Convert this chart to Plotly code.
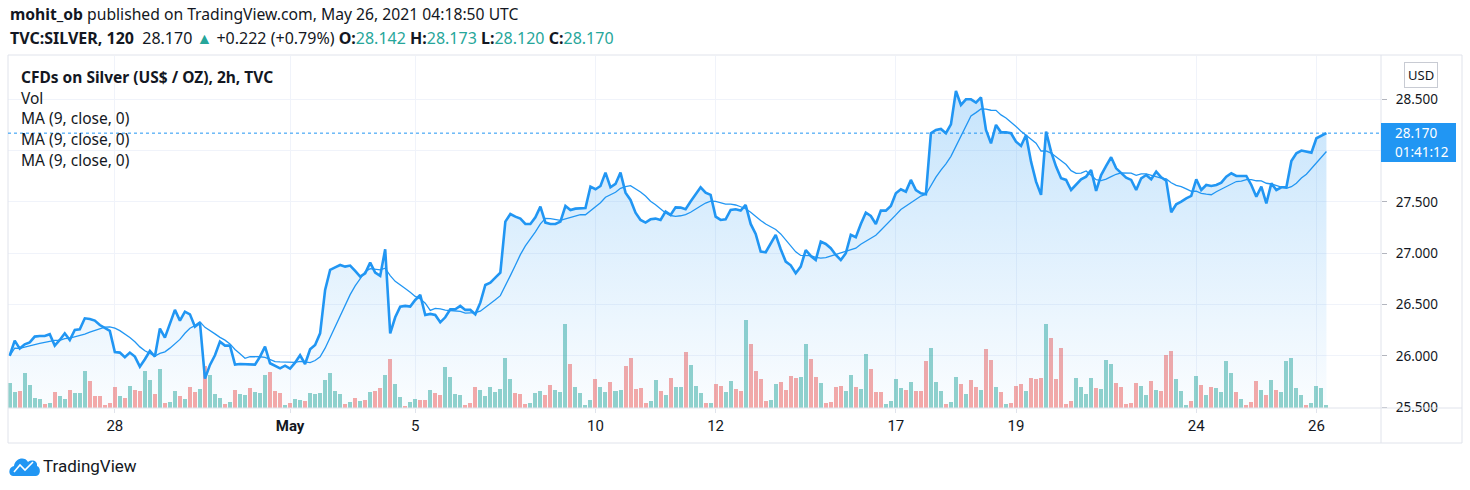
import pandas as pd
import plotly.graph_objects as go

# ---- data (TVC:SILVER, 2h bars) ----
sessions = ["04-26", "04-27", "04-28", "04-29", "04-30", "05-02", "05-03", "05-04", "05-05",
            "05-06", "05-07", "05-10", "05-11", "05-12", "05-13", "05-14", "05-17", "05-18",
            "05-19", "05-20", "05-21", "05-24", "05-25", "05-26"]
bars_in_session = [9, 12, 12, 12, 11, 1, 12, 12, 12, 12, 12, 12, 12, 12, 12, 12, 12, 12,
                   12, 12, 12, 12, 12, 3]

close = [
    26.000, 26.148, 26.070, 26.112, 26.131, 26.187, 26.193, 26.193, 26.210, 26.099,
    26.154, 26.219, 26.154, 26.252, 26.258, 26.365, 26.359, 26.343, 26.300, 26.268,
    26.242, 26.037, 26.031, 25.985, 26.031, 25.992, 25.894, 25.966, 26.047, 25.992,
    26.265, 26.177, 26.307, 26.447, 26.343, 26.430, 26.404, 26.284, 26.323, 25.777,
    25.911, 26.005, 26.138, 26.099, 26.099, 25.914, 25.920, 25.920, 25.917, 25.914,
    25.992, 26.089, 25.927, 25.901, 25.878, 25.904, 25.875, 25.933, 26.005, 25.920,
    26.063, 26.105, 26.219, 26.642, 26.837, 26.862, 26.885, 26.869, 26.879, 26.827,
    26.772, 26.804, 26.908, 26.810, 26.778, 27.038, 26.219, 26.375, 26.479, 26.486,
    26.479, 26.544, 26.593, 26.398, 26.408, 26.398, 26.326, 26.375, 26.453, 26.453,
    26.486, 26.447, 26.447, 26.404, 26.518, 26.690, 26.713, 26.762, 26.810, 27.308,
    27.382, 27.356, 27.337, 27.285, 27.285, 27.350, 27.454, 27.298, 27.285, 27.285,
    27.308, 27.460, 27.421, 27.434, 27.441, 27.441, 27.649, 27.623, 27.655, 27.785,
    27.642, 27.675, 27.785, 27.590, 27.519, 27.395, 27.324, 27.298, 27.330, 27.337,
    27.324, 27.405, 27.373, 27.447, 27.444, 27.428, 27.503, 27.568, 27.642, 27.590,
    27.568, 27.356, 27.324, 27.330, 27.421, 27.428, 27.415, 27.470, 27.285, 27.187,
    27.015, 27.009, 27.090, 27.178, 27.038, 26.918, 26.882, 26.804, 26.869, 27.031,
    26.973, 26.934, 27.113, 27.090, 27.048, 26.983, 26.934, 26.999, 27.178, 27.155,
    27.285, 27.395, 27.363, 27.285, 27.415, 27.415, 27.460, 27.584, 27.623, 27.600,
    27.714, 27.616, 27.584, 27.574, 28.169, 28.201, 28.211, 28.169, 28.256, 28.581,
    28.445, 28.500, 28.500, 28.468, 28.519, 28.201, 28.071, 28.250, 28.178, 28.178,
    28.169, 28.087, 28.045, 28.152, 27.892, 27.697, 27.568, 28.185, 27.990, 27.844,
    27.730, 27.714, 27.616, 27.665, 27.720, 27.746, 27.811, 27.607, 27.762, 27.850,
    27.935, 27.827, 27.779, 27.736, 27.714, 27.616, 27.730, 27.762, 27.720, 27.795,
    27.740, 27.707, 27.399, 27.477, 27.503, 27.535, 27.558, 27.720, 27.616, 27.665,
    27.655, 27.665, 27.688, 27.746, 27.779, 27.753, 27.753, 27.753, 27.665, 27.551,
    27.649, 27.486, 27.681, 27.616, 27.642, 27.642, 27.899, 27.974, 28.000, 27.990,
    27.980, 28.120, 28.143, 28.170,
]

# relative volume per bar
volume = [
    76, 49, 51, 105, 68, 30, 26, 12, 15, 48, 36, 27, 54, 45, 45, 111, 81, 36, 36, 9,
    15, 63, 36, 30, 66, 54, 51, 111, 84, 42, 117, 15, 18, 51, 36, 27, 63, 48, 57, 126,
    99, 42, 30, 12, 18, 54, 42, 40, 60, 48, 45, 99, 108, 51, 45, 9, 15, 27, 24, 21,
    45, 43, 45, 84, 105, 51, 42, 12, 18, 30, 21, 24, 48, 51, 60, 99, 147, 72, 33, 6,
    18, 27, 24, 24, 54, 45, 39, 123, 93, 42, 39, 9, 15, 63, 54, 36, 63, 48, 57, 150,
    87, 45, 42, 12, 15, 45, 51, 39, 69, 54, 48, 252, 132, 63, 45, 9, 24, 87, 63, 48,
    78, 51, 54, 126, 150, 57, 60, 15, 21, 84, 51, 39, 90, 63, 63, 168, 129, 66, 45, 15,
    15, 72, 66, 48, 81, 57, 51, 264, 192, 111, 87, 21, 24, 72, 78, 54, 96, 90, 93, 192,
    147, 93, 75, 15, 18, 63, 66, 51, 99, 63, 57, 162, 117, 48, 48, 12, 21, 87, 60, 54,
    78, 51, 51, 141, 180, 78, 51, 12, 18, 93, 72, 42, 84, 63, 54, 177, 144, 63, 48, 12,
    15, 66, 72, 51, 90, 87, 90, 252, 210, 87, 180, 12, 21, 90, 63, 42, 90, 60, 57, 144,
    132, 75, 63, 12, 15, 75, 66, 39, 81, 54, 51, 159, 171, 87, 51, 9, 21, 96, 69, 39,
    63, 60, 48, 141, 105, 48, 27, 9, 18, 81, 54, 39, 84, 54, 48, 141, 150, 60, 39, 9,
    15, 66, 60, 9,
]

# g = up bar, r = down bar
volume_dir = (
    "ggrggggrgr" "ggrgggrrrr" "rrgrgrrggr" "grggrgrrgr" "gggrg"
    "rggrgggrrr" "grggrggggg" "ggrgrgrgrr" "grggrggrrg" "rrgg"
    "ggrrrggggg" "ggrrrgggrr" "gggrggggrg" "grggrrrrrg" "grgrggrggg"
    "rgrrggrrgr" "rrrggrrrrg" "grrgrrrrgg" "rggrrrgg"
    "ggrgrrrggg" "rggrgrrgrr" "grgrrrgrrr" "grrrrrgggg" "rgggrrrrrg"
    "grgrrrgggr" "grgrggggrg" "rrrgrgrggg" "ggrgggg"
)

tick_sessions = ["04-28", "05-02", "05-05", "05-10", "05-12", "05-17", "05-19", "05-24", "05-26"]
tick_text = ["28", "<b>May</b>", "5", "10", "12", "17", "19", "24", "26"]
price_ticks = [25.5, 26.0, 26.5, 27.0, 27.5, 28.0, 28.5]
price_tick_text = ["25.500", "26.000", "26.500", "27.000", "27.500", "", "28.500"]
last_price = 28.170
countdown = "01:41:12"

BLUE = "#2196F3"
TEAL = "#26a69a"
TXT = "#131722"
GRID = "#f0f3fa"
BORDER = "#e0e3eb"
FONT = "Noto Sans"
NARROW = "Roboto"

df = pd.DataFrame({"close": close, "volume": volume, "dir": list(volume_dir)})
df["bar"] = range(len(df))
df["ma"] = df["close"].rolling(9, min_periods=1).mean()
df["vcolor"] = df["dir"].map({"g": "rgba(38,166,154,0.5)", "r": "rgba(239,83,80,0.5)"})

starts = pd.Series(bars_in_session, index=sessions).cumsum() - pd.Series(bars_in_session, index=sessions)
tickvals = [int(starts[s]) for s in tick_sessions]

# pixel -> paper helpers for the frame decorations
L, R, T, B = 8, 1381, 56, 408
def px(x):
    return (x - L) / (R - L)
def py(y):
    return (B - y) / (B - T)

fig = go.Figure()
fig.add_bar(x=df.bar, y=df.volume, marker_color=df.vcolor, marker_line_width=0,
            width=0.8, yaxis="y", hoverinfo="skip")
fig.add_scatter(x=df.bar, y=df.close, mode="lines", yaxis="y2",
                line=dict(color=BLUE, width=2.6),
                fill="tozeroy",
                fillgradient=dict(type="vertical", start=25.49, stop=28.6,
                                  colorscale=[[0, "rgba(33,150,243,0.02)"],
                                              [1, "rgba(33,150,243,0.26)"]]))
fig.add_scatter(x=df.bar, y=df.ma, mode="lines", yaxis="y2",
                line=dict(color=BLUE, width=1.3))

shapes = [
    # outer frame and separators
    dict(type="rect", xref="paper", yref="paper", x0=px(8), x1=px(1462), y0=py(443), y1=py(55),
         line=dict(color=BORDER, width=1), layer="above"),
    dict(type="line", xref="paper", yref="paper", x0=1, x1=1, y0=py(443), y1=py(55),
         line=dict(color=BORDER, width=1)),
    dict(type="line", xref="paper", yref="paper", x0=px(8), x1=px(1462), y0=0, y1=0,
         line=dict(color=BORDER, width=1)),
    # last price line
    dict(type="line", xref="paper", yref="y2", x0=0, x1=1, y0=last_price, y1=last_price,
         line=dict(color=BLUE, width=1, dash="dot")),
    # last price label box
    dict(type="rect", xref="paper", yref="paper", x0=1, x1=px(1456), y0=py(162), y1=py(123),
         fillcolor=BLUE, line=dict(width=0)),
    # TradingView logo (cloud)
    dict(type="path", xref="paper", yref="paper", fillcolor=BLUE, line=dict(width=0),
         path=(f"M {px(13)},{py(476)} C {px(8)},{py(476)} {px(8)},{py(467)} {px(14)},{py(466)} "
               f"C {px(15)},{py(458)} {px(25)},{py(456)} {px(28)},{py(462)} "
               f"C {px(32)},{py(459)} {px(38)},{py(461)} {px(37)},{py(466)} "
               f"C {px(41)},{py(467)} {px(41)},{py(476)} {px(36)},{py(476)} Z")),
    dict(type="path", xref="paper", yref="paper", line=dict(color="white", width=1.6),
         path=f"M {px(14)},{py(472)} L {px(20)},{py(465)} L {px(25)},{py(470)} L {px(33)},{py(462)}"),
]

ann = []
def note(x, y, text, size=14, color=TXT, family=FONT, **kw):
    ann.append(dict(x=x, y=y, xref="paper", yref="paper", text=text, showarrow=False,
                    xanchor=kw.pop("xanchor", "left"), yanchor="middle",
                    font=dict(family=family, size=size, color=color), **kw))

note(px(8), py(14), "<b>mohit_ob</b> published on TradingView.com, May 26, 2021 04:18:50 UTC", size=15.7)
g = lambda s: f"<span style='color:{TEAL}'>{s}</span>"
note(px(8), py(38),
     f"<b>TVC:SILVER, 120</b>  28.170 {g('▲')} +0.222 (+0.79%) <b>O:</b>{g('28.142')} "
     f"<b>H:</b>{g('28.173')} <b>L:</b>{g('28.120')} <b>C:</b>{g('28.170')}", size=16)
note(px(19), py(77), "<b>CFDs on Silver (US$ / OZ), 2h, TVC</b>", size=15.5)
note(px(19), py(98), "Vol", size=15.5)
for yy in (118, 139, 160):
    note(px(19), py(yy), "MA (9, close, 0)", size=15.5)
note(px(1421), py(75), "USD", size=13, xanchor="center",
     bordercolor="#c8cbd3", borderwidth=1, borderpad=3)
note(px(1393), py(133), f"{last_price:.3f}", size=13.5, color="white")
note(px(1393), py(152), countdown, size=13.5, color="white")
note(px(41), py(466), "TradingView", size=17, family=NARROW)

fig.update_layout(
    width=1470, height=490,
    margin=dict(l=L, r=1470 - R, t=T, b=490 - B),
    paper_bgcolor="white", plot_bgcolor="white",
    showlegend=False, bargap=0,
    font=dict(family=FONT, color=TXT),
    shapes=shapes, annotations=ann,
    xaxis=dict(range=[-0.34, 273.9], tickvals=tickvals, ticktext=tick_text,
               showgrid=True, gridcolor=GRID, gridwidth=1, zeroline=False,
               ticks="outside", ticklen=4, tickcolor=BORDER,
               tickfont=dict(family=NARROW, size=15, color=TXT), showline=False),
    yaxis=dict(range=[0, 1056], visible=False, fixedrange=True),
    yaxis2=dict(overlaying="y", side="right", range=[25.491, 28.922],
                tickvals=price_ticks, ticktext=price_tick_text,
                showgrid=True, gridcolor=GRID, zeroline=False,
                ticks="outside", ticklen=5, tickcolor="#b2b5be",
                ticklabelstandoff=6, tickfont=dict(size=13.5, color=TXT)),
)

fig.write_html("out.html", config={"displayModeBar": False},
               post_script="document.body.style.margin = '0';")
